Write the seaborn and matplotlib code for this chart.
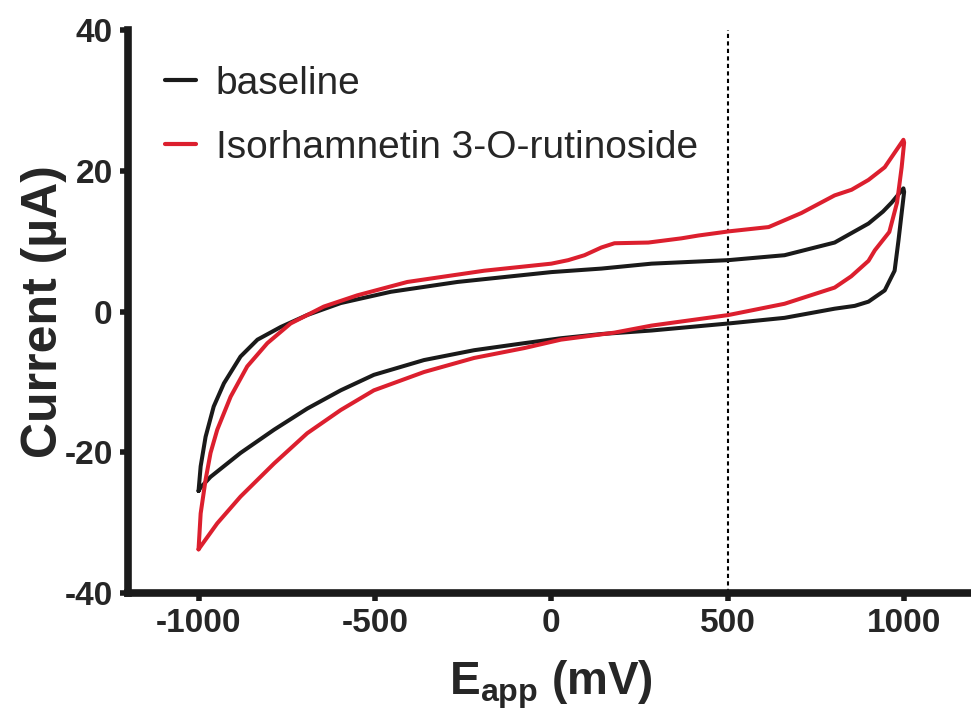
import numpy as np
import pandas as pd
import matplotlib
matplotlib.use("Agg")
import matplotlib.pyplot as plt
import seaborn as sns

# baseline CV, anodic sweep (-1000 -> 1000 mV) then cathodic sweep back
baseline_fwd_E = [-1000, -994, -980, -957, -928, -881, -833, -767, -692, -597, -455, -266,
                  0, 142, 284, 502, 661, 803, 899, 940, 965, 998]
baseline_fwd_I = [-25.5, -22.0, -17.8, -13.5, -10.2, -6.4, -4.0, -2.2, -0.5, 1.2, 2.8, 4.2,
                  5.6, 6.1, 6.8, 7.3, 8.0, 9.8, 12.5, 14.2, 15.5, 17.5]
baseline_rev_E = [1000, 993, 984, 973, 945, 899, 860, 803, 661, 502, 284, 142, 27,
                  -77, -219, -361, -503, -597, -692, -786, -881, -966, -994, -1000]
baseline_rev_I = [17.0, 14.0, 10.1, 5.8, 3.0, 1.4, 0.8, 0.4, -0.9, -1.7, -2.7, -3.2, -3.8,
                  -4.5, -5.5, -6.9, -9.0, -11.2, -13.8, -16.8, -20.1, -23.5, -25.0, -25.5]

# Isorhamnetin 3-O-rutinoside CV
iso_fwd_E = [-1000, -994, -980, -966, -947, -909, -862, -805, -739, -645, -550, -408, -190,
             0, 48, 94, 142, 179, 275, 369, 417, 505, 616, 709, 803, 851, 899, 945, 998]
iso_fwd_I = [-33.8, -28.7, -23.9, -20.1, -16.8, -12.1, -7.8, -4.5, -1.7, 0.7, 2.3, 4.2, 5.8,
             6.8, 7.3, 8.0, 9.1, 9.7, 9.8, 10.4, 10.8, 11.4, 12.0, 14.0, 16.5, 17.3, 18.7, 20.5, 24.4]
iso_rev_E = [1000, 993, 980, 958, 917, 899, 850, 803, 661, 502, 284, 179, 27,
             -77, -219, -361, -503, -597, -692, -786, -881, -947, -1000]
iso_rev_I = [24.0, 20.5, 15.5, 11.3, 8.7, 7.2, 5.0, 3.4, 1.1, -0.5, -2.0, -3.0, -4.0,
             -5.2, -6.6, -8.6, -11.2, -14.0, -17.3, -21.6, -26.3, -30.1, -33.8]

series_names = ["baseline", "Isorhamnetin 3-O-rutinoside"]
series_colors = ["#1a1a1a", "#dc1f2e"]
x_ticks = [-1000, -500, 0, 500, 1000]
y_ticks = [-40, -20, 0, 20, 40]
marker_E = 500

rows = []
for name, E, I in [(series_names[0], baseline_fwd_E + baseline_rev_E, baseline_fwd_I + baseline_rev_I),
                   (series_names[1], iso_fwd_E + iso_rev_E, iso_fwd_I + iso_rev_I)]:
    for k, (e, i) in enumerate(zip(E, I)):
        rows.append({"series": name, "order": k, "E": e, "I": i})
df = pd.DataFrame(rows)

sns.set_style("ticks")
plt.rcParams['font.family'] = ['Liberation Sans', 'DejaVu Sans']
plt.rcParams['axes.unicode_minus'] = False
plt.rcParams['mathtext.fontset'] = 'custom'
plt.rcParams['mathtext.rm'] = 'Liberation Sans'
plt.rcParams['mathtext.bf'] = 'Liberation Sans:bold'

fig = plt.figure(figsize=(9.71, 7.13), dpi=100)
ax = fig.add_axes([0.1318, 0.1683, 0.872, 0.7896])

sns.lineplot(data=df, x="E", y="I", hue="series", units="series", estimator=None, sort=False,
             palette=dict(zip(series_names, series_colors)), linewidth=2.9, ax=ax)
ax.axvline(marker_E, color="black", linestyle=(0, (2, 1.6)), linewidth=1.5, zorder=1)

ax.set_xlim(-1200, 1200)
ax.set_ylim(-40, 40)
ax.set_xticks(x_ticks)
ax.set_yticks(y_ticks)
ax.tick_params(width=4, length=6, direction='out', labelsize=24, pad=5)
plt.setp(ax.get_xticklabels() + ax.get_yticklabels(), fontweight='bold')

for side in ["top", "right"]:
    ax.spines[side].set_visible(False)
for side in ["left", "bottom"]:
    ax.spines[side].set_linewidth(5.5)
    ax.spines[side].set_color("#1a1a1a")
ax.tick_params(color="#1a1a1a")

ax.set_xlabel(r'$\mathbf{E_{app}}$ (mV)', fontsize=33, fontweight='bold', labelpad=14)
ax.set_ylabel('Current (µA)', fontsize=36, fontweight='bold', labelpad=-2)

leg = ax.legend(loc='upper left', bbox_to_anchor=(0.170, 0.908), bbox_transform=fig.transFigure,
                frameon=False, fontsize=28, handlelength=0.8, handletextpad=0.5,
                labelspacing=0.72, borderpad=0, borderaxespad=0)
for line in leg.get_lines():
    line.set_linewidth(3)

fig.savefig("out.png", dpi=100)
